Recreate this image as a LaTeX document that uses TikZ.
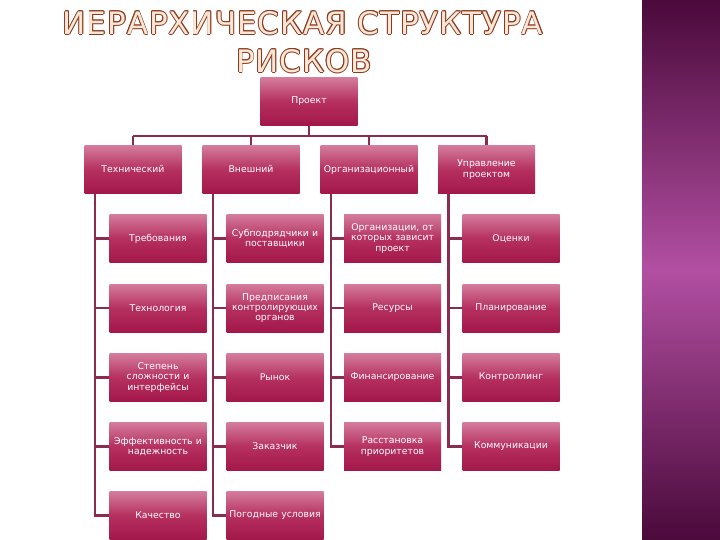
\documentclass[tikz,border=0pt]{standalone}
\usepackage{fontspec}
\setmainfont{DejaVu Sans}
\newfontfamily\titlefont[LetterSpace=3]{DejaVu Sans}
\definecolor{linec}{HTML}{8A2B50}
\definecolor{boxtop}{HTML}{D47C9C}
\definecolor{boxmid}{HTML}{B5305F}
\definecolor{boxbot}{HTML}{A3174A}
\definecolor{panelmid}{HTML}{B24FA2}
\definecolor{paneldark}{HTML}{4A0A3A}
\definecolor{titlefill}{HTML}{FCE6D6}
\definecolor{titleline}{HTML}{8A3A1E}
\tikzset{
  box/.style={minimum width=97pt, minimum height=48pt, text width=94pt, align=center,
    top color=boxtop, bottom color=boxbot, middle color=boxmid, text=white,
    font=\fontsize{9.3}{10.4}\selectfont, inner sep=1pt},
  conn/.style={draw=linec, line width=2.8pt},
  ttl/.style={font=\titlefont\fontsize{31}{32}\selectfont, text=titlefill},
  ttlo/.style={ttl, text=titleline}
}
\begin{document}
\begin{tikzpicture}[x=1pt,y=-1pt]
\useasboundingbox (0,0) rectangle (720,540);
\fill[white] (0,0) rectangle (720,540);
\shade[top color=paneldark, bottom color=panelmid] (642,0) rectangle (720,270);
\shade[top color=panelmid, bottom color=paneldark] (642,270) rectangle (720,540);
\foreach \dx/\dy [count=\i] in {0.9/0,-0.9/0,0/0.9,0/-0.9,0.65/0.65,-0.65/0.65,0.65/-0.65,-0.65/-0.65}{
  \node[ttlo] (t1o\i) at (303+\dx,23+\dy) {ИЕРАРХИЧЕСКАЯ СТРУКТУРА};
  \node[ttlo] (t2o\i) at (304+\dx,61+\dy) {РИСКОВ};
}
\node[ttl] (t1) at (303,23) {ИЕРАРХИЧЕСКАЯ СТРУКТУРА};
\node[ttl] (t2) at (304,61) {РИСКОВ};
% nodes
\node[box] (p) at (309,101.5) {Проект};
\node[box] (c1) at (133,169.5) {Технический};
\node[box] (c2) at (251,169.5) {Внешний};
\node[box] (c3) at (369,169.5) {Организационный};
\node[box] (c4) at (486.5,169.5) {Управление\\проектом};
\node[box] (a1) at (158,238.5) {Требования};
\node[box] (a2) at (158,308) {Технология};
\node[box] (a3) at (158,377.5) {Степень\\сложности и\\интерфейсы};
\node[box] (a4) at (158,446.5) {Эффективность и\\надежность};
\node[box] (a5) at (158,515.5) {Качество};
\node[box] (b1) at (275,238.5) {Субподрядчики и\\поставщики};
\node[box] (b2) at (275,308) {Предписания\\контролирующих\\органов};
\node[box] (b3) at (275,377.5) {Рынок};
\node[box] (b4) at (275,446.5) {Заказчик};
\node[box] (b5) at (275,515.5) {Погодные условия};
\node[box] (d1) at (392.5,238.5) {Организации, от\\которых зависит\\проект};
\node[box] (d2) at (392.5,308) {Ресурсы};
\node[box] (d3) at (392.5,377.5) {Финансирование};
\node[box] (d4) at (392.5,446.5) {Расстановка\\приоритетов};
\node[box] (e1) at (511,238.5) {Оценки};
\node[box] (e2) at (511,308) {Планирование};
\node[box] (e3) at (511,377.5) {Контроллинг};
\node[box] (e4) at (511,446.5) {Коммуникации};
% connectors
\coordinate (bus) at (0,136);
\draw[conn] (c1.north |- bus) -- (c4.north |- bus);
\draw[conn] (p.south) -- (p.south |- bus);
\foreach \c in {c1,c2,c3,c4}{\draw[conn] (\c.north |- bus) -- (\c.north);}
\foreach \c/\k/\n in {c1/a/5,c2/b/5,c3/d/4,c4/e/4}{
  \coordinate (s\c) at ([xshift=-38pt]\c.south);
  \draw[conn] (s\c) -- (s\c |- \k\n.west) -- (\k\n.west);
  \foreach \i in {1,...,\n}{\draw[conn] (s\c |- \k\i.west) -- (\k\i.west);}
}
\end{tikzpicture}
\end{document}
